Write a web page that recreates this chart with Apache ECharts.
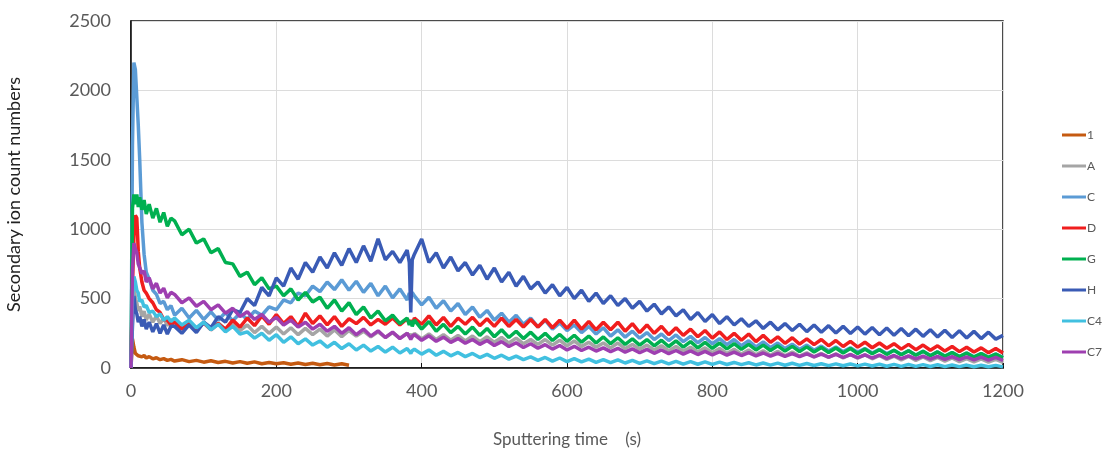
<!DOCTYPE html>
<html>
<head>
<meta charset="utf-8">
<script src="https://cdn.jsdelivr.net/npm/echarts@6/dist/echarts.min.js"></script>
<style>
  html, body { margin: 0; padding: 0; background: #fff; }
  #chart { width: 1119px; height: 454px; }
</style>
</head>
<body>
<div id="chart"></div>
<script>
// sampling times (s)
var times = [0, 2, 4, 6, 8, 10, 12, 15, 18, 21, 25, 30, 35, 40, 45, 50, 55,
  60, 70, 80, 90, 100, 110, 120, 130, 140, 150,
  160, 170, 180, 190, 200, 210, 220, 230, 240, 250,
  260, 270, 280, 290, 300, 310, 320, 330, 340, 350,
  360, 370, 380, 383, 385, 387, 390, 400, 410, 420, 430, 440, 450,
  460, 470, 480, 490, 500, 510, 520, 530, 540, 550,
  560, 570, 580, 590, 600, 610, 620, 630, 640, 650,
  660, 670, 680, 690, 700, 710, 720, 730, 740, 750,
  760, 770, 780, 790, 800, 810, 820, 830, 840, 850,
  860, 870, 880, 890, 900, 910, 920, 930, 940, 950,
  960, 970, 980, 990, 1000, 1010, 1020, 1030, 1040, 1050,
  1060, 1070, 1080, 1090, 1100, 1110, 1120, 1130, 1140, 1150,
  1160, 1170, 1180, 1190, 1200];

var names = ["1", "A", "C", "D", "G", "H", "C4", "C7"];
var colors = ["#c55a11", "#a5a5a5", "#5b9bd5", "#f01e1e", "#00b050", "#3a5bb5", "#41c0e0", "#9e3fb0"];

var s1 = [0, 210, 150, 105, 100, 88, 96, 80, 90, 72, 82, 66, 74, 60, 68, 55, 62,
  50, 60, 46, 55, 42, 52, 40, 48, 36, 46,
  34, 44, 31, 40, 30, 38, 27, 36, 25, 34,
  24, 32, 22, 30, 20];

var sA = [0, 480, 620, 500, 470, 410, 445, 370, 410, 345, 390, 330, 375, 320, 360, 305, 345,
  345, 295, 335, 280, 330, 285, 325, 275, 315, 270,
  310, 255, 300, 250, 295, 245, 290, 240, 285, 240,
  280, 230, 275, 225, 270, 230, 265, 225, 260, 220,
  255, 215, 250, 230, 245, 220, 250, 210, 245, 205, 240, 200, 235,
  195, 230, 190, 225, 185, 220, 180, 215, 175, 205,
  170, 205, 165, 200, 160, 195, 155, 185, 150, 180,
  145, 180, 140, 170, 135, 165, 130, 160, 125, 155,
  120, 150, 115, 145, 110, 140, 105, 135, 100, 130,
  95, 125, 92, 120, 88, 115, 85, 110, 80, 105,
  76, 102, 72, 98, 70, 95, 66, 90, 62, 86,
  58, 84, 55, 80, 52, 76, 50, 72, 46, 68,
  44, 66, 42, 62, 40];

var sC = [0, 1600, 2200, 2150, 1950, 1750, 1500, 1050, 820, 690, 640, 560, 530, 465, 480, 420, 450,
  380, 430, 360, 415, 350, 405, 345, 400, 340, 395,
  350, 410, 380, 440, 420, 490, 470, 540, 520, 590,
  550, 620, 565, 635, 560, 625, 545, 610, 520, 590,
  505, 570, 490, 540, 500, 545, 520, 455, 510, 430, 485, 410, 465,
  385, 440, 365, 415, 345, 395, 330, 380, 315, 360,
  295, 345, 280, 325, 270, 310, 255, 300, 245, 290,
  230, 275, 222, 265, 215, 255, 205, 245, 198, 238,
  190, 228, 182, 220, 175, 212, 168, 205, 160, 196,
  152, 188, 146, 180, 140, 172, 134, 165, 128, 158,
  122, 152, 118, 146, 114, 140, 108, 134, 104, 128,
  98, 124, 94, 120, 90, 116, 86, 112, 82, 108,
  80, 104, 78, 100, 76];

var sD = [0, 600, 950, 1100, 1080, 840, 720, 620, 560, 540, 500, 470, 420, 400, 350, 345, 310,
  330, 280, 320, 270, 325, 275, 320, 280, 345, 295,
  360, 305, 375, 315, 385, 320, 370, 300, 395, 320,
  375, 310, 370, 300, 355, 320, 365, 310, 350, 315,
  360, 310, 355, 320, 345, 315, 360, 315, 375, 310, 365, 300, 360,
  315, 365, 305, 355, 300, 360, 300, 350, 295, 350,
  295, 350, 290, 345, 285, 345, 280, 335, 275, 330,
  275, 330, 265, 320, 255, 310, 250, 300, 240, 290,
  235, 280, 225, 270, 215, 260, 205, 250, 200, 245,
  190, 235, 185, 225, 178, 218, 172, 210, 168, 205,
  160, 198, 155, 192, 150, 186, 146, 180, 142, 175,
  136, 170, 132, 165, 128, 160, 122, 155, 118, 150,
  115, 145, 110, 140, 108];

var sG = [0, 1150, 1250, 1180, 1250, 1160, 1230, 1140, 1210, 1110, 1180, 1080, 1150, 1050, 1120, 1020, 1080,
  1060, 960, 1000, 900, 930, 830, 860, 760, 750, 660,
  690, 600, 650, 570, 590, 520, 570, 490, 545, 475,
  510, 430, 490, 410, 470, 385, 440, 360, 410, 340,
  380, 320, 360, 310, 340, 300, 345, 280, 335, 265, 315, 255, 300,
  245, 295, 235, 285, 225, 275, 220, 265, 212, 258,
  205, 250, 198, 242, 192, 236, 186, 230, 180, 224,
  175, 218, 170, 210, 165, 205, 160, 200, 155, 195,
  150, 190, 145, 184, 142, 180, 138, 175, 134, 170,
  130, 165, 126, 160, 122, 156, 118, 152, 115, 148,
  112, 144, 108, 140, 105, 136, 102, 132, 98, 128,
  95, 124, 92, 120, 88, 116, 85, 112, 82, 108,
  78, 104, 76, 100, 74];

var sH = [0, 300, 520, 420, 390, 330, 370, 300, 350, 280, 330, 260, 320, 250, 310, 245, 300,
  300, 250, 310, 255, 330, 290, 370, 330, 420, 400,
  500, 450, 580, 520, 650, 590, 720, 640, 760, 690,
  800, 720, 830, 740, 860, 760, 880, 770, 930, 780,
  840, 760, 850, 760, 400, 780, 820, 930, 760, 830, 720, 800, 700,
  760, 670, 740, 640, 720, 620, 690, 590, 660, 570,
  620, 540, 600, 520, 580, 500, 560, 480, 540, 465,
  520, 450, 500, 430, 480, 410, 460, 390, 440, 375,
  420, 350, 400, 335, 385, 320, 370, 310, 355, 300,
  340, 285, 330, 275, 320, 270, 315, 262, 310, 258,
  305, 252, 300, 248, 296, 244, 292, 240, 288, 236,
  284, 232, 280, 228, 276, 224, 272, 220, 268, 216,
  264, 212, 258, 208, 235];

var sC4 = [0, 500, 660, 620, 560, 540, 480, 490, 440, 450, 400, 410, 370, 390, 345, 370, 335,
  360, 310, 345, 290, 330, 275, 315, 260, 300, 245,
  260, 215, 250, 200, 240, 185, 225, 175, 210, 165,
  195, 150, 185, 140, 175, 130, 165, 122, 155, 115,
  150, 108, 140, 120, 105, 125, 135, 100, 130, 92, 120, 88, 112,
  82, 105, 75, 98, 70, 92, 64, 86, 60, 80,
  55, 76, 50, 72, 46, 68, 44, 64, 40, 60,
  38, 58, 36, 55, 34, 52, 32, 50, 30, 48,
  28, 46, 27, 44, 26, 42, 25, 40, 24, 38,
  22, 36, 21, 35, 20, 34, 19, 32, 18, 31,
  17, 30, 16, 29, 15, 28, 14, 27, 13, 26,
  12, 25, 12, 24, 11, 23, 10, 22, 10, 21,
  9, 20, 9, 19, 8];

var sC7 = [0, 700, 900, 860, 830, 750, 760, 680, 700, 620, 650, 570, 610, 540, 575, 505, 545,
  530, 470, 505, 445, 480, 420, 455, 395, 430, 370,
  405, 350, 385, 330, 365, 310, 345, 295, 330, 280,
  315, 265, 300, 250, 290, 240, 280, 230, 268, 220,
  258, 212, 250, 225, 205, 230, 240, 200, 232, 192, 222, 185, 212,
  178, 205, 170, 198, 162, 190, 155, 182, 148, 175,
  142, 168, 136, 162, 130, 156, 126, 150, 122, 145,
  118, 142, 114, 138, 110, 134, 106, 130, 103, 126,
  100, 123, 97, 120, 94, 117, 92, 114, 90, 111,
  88, 108, 86, 106, 84, 104, 82, 102, 80, 100,
  78, 98, 76, 96, 74, 94, 72, 92, 70, 90,
  68, 88, 66, 86, 64, 84, 62, 82, 60, 80,
  58, 78, 56, 76, 54];

var allValues = [s1, sA, sC, sD, sG, sH, sC4, sC7];

(function () {
  var myChart = echarts.init(document.getElementById('chart'));
  var font = 'Lato, "Open Sans", sans-serif';

  var series = allValues.map(function (vals, k) {
    return {
      name: names[k],
      type: 'line',
      showSymbol: false,
      symbol: 'none',
      lineStyle: { width: 3.5, color: colors[k] },
      itemStyle: { color: colors[k] },
      data: vals.map(function (v, i) { return [times[i], v]; })
    };
  });

  var option = {
    animation: false,
    backgroundColor: '#fff',
    color: colors,
    grid: {
      left: 131,
      right: 116,
      top: 21,
      bottom: 86,
      containLabel: false,
      outerBoundsMode: 'none',
      show: true,
      borderColor: '#111',
      borderWidth: 1.5
    },
    legend: {
      orient: 'vertical',
      left: 1057,
      top: 124,
      itemWidth: 24,
      itemHeight: 3,
      itemGap: 19,
      icon: 'rect',
      textStyle: { color: '#595959', fontSize: 12, fontFamily: font, padding: [0, 0, 0, -4] },
      data: names
    },
    xAxis: {
      type: 'value',
      min: 0,
      max: 1200,
      interval: 200,
      name: 'Sputtering time\u00a0\u00a0\u00a0\u00a0(s)',
      nameLocation: 'middle',
      nameGap: 63,
      nameTextStyle: { color: '#595959', fontSize: 17, fontFamily: font },
      axisLine: { show: true, lineStyle: { color: '#111', width: 1.5 } },
      axisTick: { show: true, inside: true, length: 5, lineStyle: { color: '#111' } },
      axisLabel: {
        color: '#595959', fontSize: 18, fontFamily: font, margin: 14,
        formatter: function (v) { return String(v); }
      },
      splitLine: { show: true, lineStyle: { color: '#dcdcdc', width: 1 } }
    },
    yAxis: {
      type: 'value',
      min: 0,
      max: 2500,
      interval: 500,
      name: 'Secondary ion count numbers',
      nameLocation: 'middle',
      nameGap: 108,
      nameTextStyle: { color: '#222', fontSize: 18, fontFamily: font },
      axisLine: { show: true, lineStyle: { color: '#111', width: 1.5 } },
      axisTick: { show: false },
      axisLabel: {
        color: '#595959', fontSize: 18, fontFamily: font, margin: 20,
        formatter: function (v) { return String(v); }
      },
      splitLine: { show: true, lineStyle: { color: '#dcdcdc', width: 1 } }
    },
    series: series
  };

  myChart.setOption(option);

  window.addEventListener('resize', function () {
    myChart.resize();
  });
})();
</script>
</body>
</html>
